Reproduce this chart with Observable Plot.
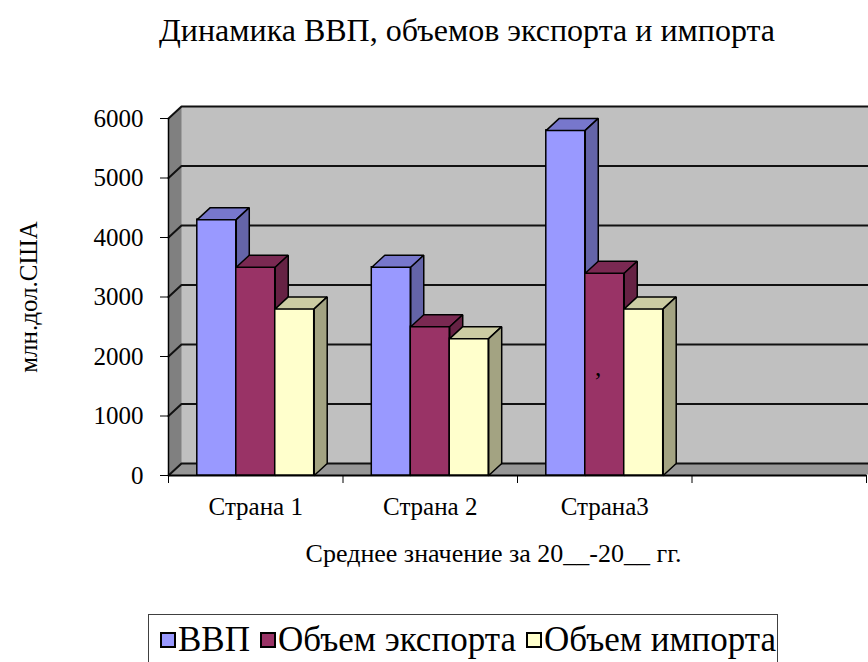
<!DOCTYPE html>
<html>
<head>
<meta charset="utf-8">
<script src="https://cdn.jsdelivr.net/npm/d3@7"></script>
<script src="https://cdn.jsdelivr.net/npm/@observablehq/plot@0.6"></script>
<style>
  html, body { margin: 0; padding: 0; background: #fff; overflow: hidden; }
  body { width: 868px; height: 662px; font-family: "Liberation Serif", "Times New Roman", serif; color: #000; }
  #title { height: 60px; line-height: 60px; font-size: 32px; text-align: center; padding-left: 66px; width: 802px; white-space: nowrap; }
  #chart svg { display: block; }
  #legend { position: relative; margin-left: 148px; margin-top: 8px; width: 630px; height: 60px; box-sizing: border-box;
            border: 1px solid #404040; display: flex; align-items: center; align-self: flex-start; padding-left: 11px;
            font-size: 35px; line-height: 35px; white-space: nowrap; }
  #legend { align-items: flex-start; padding-top: 7px; }
  .item { display: flex; align-items: center; margin-right: 10px; height: 35px; }
  .sw { width: 12px; height: 12px; border: 2px solid #000; margin-right: 2px; }
</style>
</head>
<body>
<div id="title"></div>
<div id="chart"></div>
<div id="legend"></div>
<script>
// ---- data ----
const title = "Динамика ВВП, объемов экспорта и импорта";
const categories = ["Страна 1", "Страна 2", "Страна3", ""];
const seriesNames = ["ВВП", "Объем экспорта", "Объем импорта"];
const gdp = [4300, 3500, 5800];
const exportVol = [3500, 2500, 3400];
const importVol = [2800, 2300, 2800];
const yTicks = [0, 1000, 2000, 3000, 4000, 5000, 6000];
const yLabel = "млн.дол.США";
const xTitle = "Среднее значение за 20__-20__ гг.";
const strayMark = [{country: 2, series: 1, value: 1800, text: ","}];

// ---- styling ----
const faceColors = ["#9999ff", "#993366", "#ffffcc"];
const topColors = ["#7777cc", "#7a2952", "#cccca3"];
const sideColors = ["#6464a8", "#662244", "#a3a382"];

const W = 868, H = 546, mL = 168, mR = 2, mT = 58, mB = 131;
const yMax = 6000;
const nBands = categories.length;
const pxPerX = (W - mL - mR) / nBands;
const pxPerY = (H - mT - mB) / yMax;
const OX = 13 / pxPerX;   // depth offset (x) in data units
const OY = 12 / pxPerY;   // depth offset (y) in data units
const groupFrac = 0.67;
const bw = groupFrac / 3;
const pad = (1 - groupFrac) / 2;

document.getElementById("title").textContent = title;

const seriesValues = [gdp, exportVol, importVol];

// walls
const wall = [{x1: OX, x2: nBands + OX, y1: OY, y2: yMax + OY}];
const sideWall = [[0, 0], [0, yMax], [OX, yMax + OY], [OX, OY], [0, 0]].map(([x, y]) => ({x, y}));
const floor = [[0, 0], [nBands, 0], [nBands + OX, OY], [OX, OY], [0, 0]].map(([x, y]) => ({x, y}));
const grid = yTicks.flatMap(v => [
  {x: 0, y: v, k: v}, {x: OX, y: v + OY, k: v}, {x: nBands + OX, y: v + OY, k: v}
]);

// bars
function barsFor(j) {
  const fronts = [], tops = [], sides = [];
  seriesValues[j].forEach((v, i) => {
    const x1 = i + pad + j * bw, x2 = x1 + bw;
    const id = i;
    fronts.push({x1, x2, y1: 0, y2: v});
    [[x1, v], [x2, v], [x2 + OX, v + OY], [x1 + OX, v + OY], [x1, v]].forEach(([x, y]) => tops.push({x, y, id}));
    [[x2, 0], [x2, v], [x2 + OX, v + OY], [x2 + OX, OY], [x2, 0]].forEach(([x, y]) => sides.push({x, y, id}));
  });
  return [
    Plot.rect(fronts, {x1: "x1", x2: "x2", y1: "y1", y2: "y2", fill: faceColors[j], stroke: "#000", strokeWidth: 1.5}),
    Plot.line(tops, {x: "x", y: "y", z: "id", fill: topColors[j], stroke: "#000", strokeWidth: 1.5, strokeLinejoin: "miter"}),
    Plot.line(sides, {x: "x", y: "y", z: "id", fill: sideColors[j], stroke: "#000", strokeWidth: 1.5, strokeLinejoin: "miter"})
  ];
}

const plot = Plot.plot({
  width: W, height: H,
  marginLeft: mL, marginRight: mR, marginTop: mT, marginBottom: mB,
  style: {fontFamily: "'Liberation Serif', 'Times New Roman', serif", fontSize: "25px", color: "#000", background: "transparent", overflow: "hidden"},
  x: {domain: [0, nBands], axis: null},
  y: {domain: [0, yMax], axis: null},
  marks: [
    Plot.rect(wall, {x1: "x1", x2: "x2", y1: "y1", y2: "y2", fill: "#c0c0c0"}),
    Plot.line(sideWall, {x: "x", y: "y", fill: "#808080", stroke: "none"}),
    Plot.line(floor, {x: "x", y: "y", fill: "#969696", stroke: "none"}),
    Plot.line(grid, {x: "x", y: "y", z: "k", stroke: "#111", strokeWidth: 2, strokeLinejoin: "miter"}),
    Plot.ruleX([0], {stroke: "#000", strokeWidth: 1.5}),
    Plot.ruleY([0], {stroke: "#000", strokeWidth: 2}),
    Plot.axisY({ticks: yTicks, tickSize: 8, tickPadding: 17, tickFormat: d => String(d)}),
    Plot.axisX({ticks: d3.range(nBands + 1), tickSize: 8, tickFormat: () => ""}),
    Plot.axisX({ticks: d3.range(nBands).map(i => i + 0.5), tickSize: 0, tickPadding: 22, tickFormat: d => categories[Math.floor(d)]}),
    ...barsFor(0), ...barsFor(1), ...barsFor(2),
    Plot.text(strayMark, {x: d => d.country + pad + d.series * bw + bw * 0.33, y: "value", text: "text", fontSize: 25}),
    Plot.text([yLabel], {frameAnchor: "left", textAnchor: "middle", lineAnchor: "middle", rotate: -90, dx: -140, fontSize: 25}),
    Plot.text([xTitle], {frameAnchor: "bottom", textAnchor: "middle", lineAnchor: "middle", dx: -24, dy: 78, fontSize: 26})
  ]
});
document.getElementById("chart").appendChild(plot);

// legend
const legend = document.getElementById("legend");
seriesNames.forEach((name, j) => {
  const item = document.createElement("div");
  item.className = "item";
  const sw = document.createElement("div");
  sw.className = "sw";
  sw.style.background = faceColors[j];
  const t = document.createElement("span");
  t.textContent = name;
  item.appendChild(sw); item.appendChild(t);
  legend.appendChild(item);
});
</script>
</body>
</html>
